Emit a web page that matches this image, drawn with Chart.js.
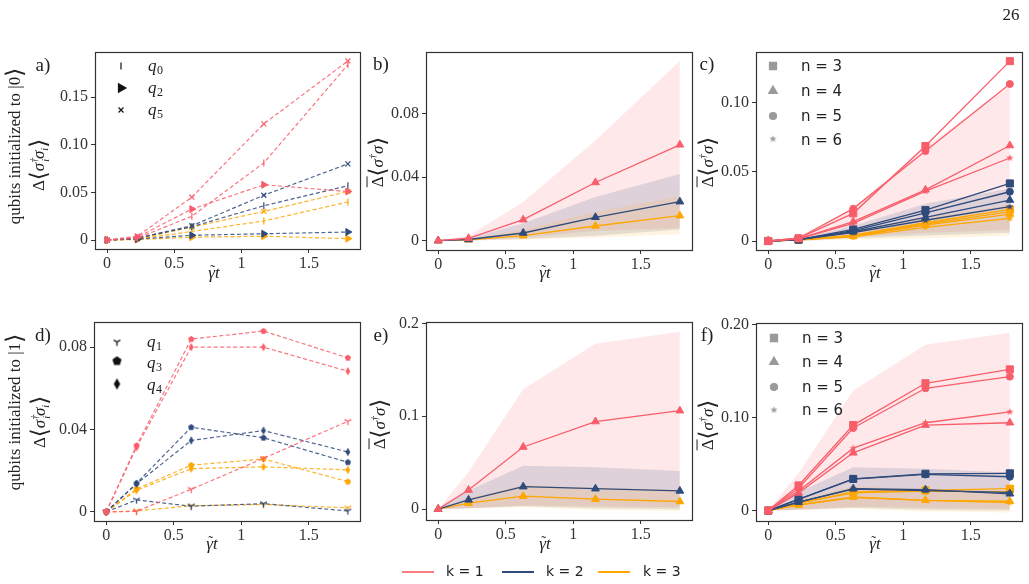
<!DOCTYPE html>
<html>
<head>
<meta charset="utf-8">
<script src="https://cdn.jsdelivr.net/npm/chart.js@4.4.0/dist/chart.umd.min.js"></script>
<style>
  body { margin: 0; background: #fff; }
  #fig { position: relative; width: 1029px; height: 584px; overflow: hidden; font-family: "Liberation Serif", "DejaVu Serif", serif; color: #222; }
  #fig canvas { position: absolute; left: 0; top: 0; pointer-events: none; }
  .lbl { position: absolute; white-space: nowrap; line-height: 1; transform: translate(-50%, -50%); z-index: 5; }
  .rot { transform: translate(-50%, -50%) rotate(-90deg); }
  .m { font-style: italic; }
  .br { font-size: 1.35em; font-style: normal; vertical-align: -0.08em; }
  .bar { text-decoration: overline; }
  .gt { position: relative; display: inline-block; }
  .tl { position: absolute; left: 2px; top: -1px; font-style: normal; font-size: 15px; }
  .key { position: absolute; top: 571px; height: 2px; width: 32px; }
  .keyt { position: absolute; top: 563px; font-family: "DejaVu Sans", sans-serif; font-size: 14px; }
</style>
</head>
<body>
<div id="fig">
  <canvas id="ca" width="1029" height="584"></canvas>
  <canvas id="cb" width="1029" height="584"></canvas>
  <canvas id="cc" width="1029" height="584"></canvas>
  <canvas id="cd" width="1029" height="584"></canvas>
  <canvas id="ce" width="1029" height="584"></canvas>
  <canvas id="cf" width="1029" height="584"></canvas>

  <div class="lbl" style="left:1011px;top:14px;font-size:17px">26</div>

  <div class="lbl" style="left:43px;top:64px;font-size:19px">a)</div>
  <div class="lbl" style="left:381px;top:63px;font-size:19px">b)</div>
  <div class="lbl" style="left:707px;top:63px;font-size:19px">c)</div>
  <div class="lbl" style="left:43px;top:334px;font-size:19px">d)</div>
  <div class="lbl" style="left:381px;top:334px;font-size:19px">e)</div>
  <div class="lbl" style="left:707px;top:334px;font-size:19px">f)</div>

  <div class="lbl rot" style="left:15px;top:146px;font-size:17px">qubits initialized to |0<span class="br">⟩</span></div>
  <div class="lbl rot" style="left:39px;top:165px;font-size:17px">Δ<span class="br">⟨</span><span class="m">σ<sup style="font-size:10px">†</sup><sub style="font-size:10px;margin-left:-4px">i</sub>σ<sub style="font-size:10px">i</sub></span><span class="br">⟩</span></div>
  <div class="lbl rot" style="left:15px;top:412px;font-size:17px">qubits initialized to |1<span class="br">⟩</span></div>
  <div class="lbl rot" style="left:40px;top:422px;font-size:17px">Δ<span class="br">⟨</span><span class="m">σ<sup style="font-size:10px">†</sup><sub style="font-size:10px;margin-left:-4px">i</sub>σ<sub style="font-size:10px">i</sub></span><span class="br">⟩</span></div>

  <div class="lbl rot" style="left:378px;top:162px;font-size:17px"><span class="bar">Δ</span><span class="br">⟨</span><span class="m">σ<sup style="font-size:10px">†</sup>σ</span><span class="br">⟩</span></div>
  <div class="lbl rot" style="left:708px;top:162px;font-size:17px"><span class="bar">Δ</span><span class="br">⟨</span><span class="m">σ<sup style="font-size:10px">†</sup>σ</span><span class="br">⟩</span></div>
  <div class="lbl rot" style="left:380px;top:424px;font-size:17px"><span class="bar">Δ</span><span class="br">⟨</span><span class="m">σ<sup style="font-size:10px">†</sup>σ</span><span class="br">⟩</span></div>
  <div class="lbl rot" style="left:708px;top:425px;font-size:17px"><span class="bar">Δ</span><span class="br">⟨</span><span class="m">σ<sup style="font-size:10px">†</sup>σ</span><span class="br">⟩</span></div>

  <div class="lbl m" style="left:214px;top:272px;font-size:17px"><span class="gt">γ<span class="tl">˜</span></span>t</div>
  <div class="lbl m" style="left:545px;top:272px;font-size:17px"><span class="gt">γ<span class="tl">˜</span></span>t</div>
  <div class="lbl m" style="left:875px;top:272px;font-size:17px"><span class="gt">γ<span class="tl">˜</span></span>t</div>
  <div class="lbl m" style="left:212px;top:543px;font-size:17px"><span class="gt">γ<span class="tl">˜</span></span>t</div>
  <div class="lbl m" style="left:545px;top:543px;font-size:17px"><span class="gt">γ<span class="tl">˜</span></span>t</div>
  <div class="lbl m" style="left:875px;top:543px;font-size:17px"><span class="gt">γ<span class="tl">˜</span></span>t</div>

  <div class="key" style="left:402px;background:#f87c82"></div>
  <div class="keyt" style="left:446px">k = 1</div>
  <div class="key" style="left:502px;background:#2f4b7c"></div>
  <div class="keyt" style="left:546px">k = 2</div>
  <div class="key" style="left:598px;background:#ffa600"></div>
  <div class="keyt" style="left:643px">k = 3</div>
</div>

<script>
// ================== data ==================
const gammaT = [0, 0.225, 0.63, 1.165, 1.79];
const xTicks = [0, 0.5, 1, 1.5];
const xTickLabels = ['0', '0.5', '1', '1.5'];

// a) qubits initialized to |0>
const a_q0_k1 = [0, 0.002, 0.025, 0.081, 0.184];
const a_q2_k1 = [0, 0.003, 0.0325, 0.058, 0.051];
const a_q5_k1 = [0, 0.004, 0.045, 0.122, 0.188];
const a_q0_k2 = [0, 0.002, 0.014, 0.036, 0.057];
const a_q2_k2 = [0, 0.001, 0.005, 0.0066, 0.0084];
const a_q5_k2 = [0, 0.002, 0.015, 0.047, 0.080];
const a_q0_k3 = [0, 0.001, 0.009, 0.020, 0.040];
const a_q2_k3 = [0, 0.0005, 0.003, 0.004, 0.0015];
const a_q5_k3 = [0, 0.001, 0.0136, 0.030, 0.051];
const aTicks = [0, 0.05, 0.10, 0.15];
const aTickLabels = ['0', '0.05', '0.10', '0.15'];

// b) mean over qubits initialized to |0>
const b_mean_k1 = [0, 0.0015, 0.0132, 0.0366, 0.0603];
const b_mean_k2 = [0, 0.0007, 0.0048, 0.0147, 0.0245];
const b_mean_k3 = [0, 0.0005, 0.0031, 0.0092, 0.0157];
const b_hi_k1 = [0, 0.003, 0.0243, 0.063, 0.113];
const b_lo_k1 = [0, 0, 0.002, 0.006, 0.008];
const b_hi_k2 = [0, 0.0015, 0.011, 0.0275, 0.042];
const b_lo_k2 = [0, 0, 0.001, 0.003, 0.007];
const b_hi_k3 = [0, 0.001, 0.007, 0.018, 0.028];
const b_lo_k3 = [0, 0, 0.0005, 0.002, 0.004];
const bTicks = [0, 0.04, 0.08];
const bTickLabels = ['0', '0.04', '0.08'];

// c) per system size n
const c_n3_k1 = [0, 0.002, 0.020, 0.0687, 0.130];
const c_n4_k1 = [0, 0.0015, 0.014, 0.037, 0.069];
const c_n5_k1 = [0, 0.002, 0.0234, 0.065, 0.1135];
const c_n6_k1 = [0, 0.0015, 0.0127, 0.036, 0.060];
const c_n3_k2 = [0, 0.001, 0.0084, 0.0224, 0.0416];
const c_n4_k2 = [0, 0.001, 0.0067, 0.017, 0.0296];
const c_n5_k2 = [0, 0.001, 0.0075, 0.0204, 0.0356];
const c_n6_k2 = [0, 0.001, 0.006, 0.015, 0.0248];
const c_n3_k3 = [0, 0.0008, 0.0043, 0.0132, 0.0228];
const c_n4_k3 = [0, 0.0008, 0.0036, 0.0115, 0.0195];
const c_n5_k3 = [0, 0.0008, 0.0038, 0.0122, 0.0212];
const c_n6_k3 = [0, 0.0008, 0.003, 0.0099, 0.0163];
const c_hi_k1 = [0, 0.003, 0.024, 0.068, 0.112];
const c_lo_k1 = [0, 0, 0.003, 0.006, 0.008];
const c_hi_k2 = [0, 0.0015, 0.011, 0.027, 0.038];
const c_lo_k2 = [0, 0, 0.002, 0.004, 0.006];
const c_hi_k3 = [0, 0.001, 0.007, 0.017, 0.026];
const c_lo_k3 = [0, 0, 0.001, 0.002, 0.004];
const cTicks = [0, 0.05, 0.10];
const cTickLabels = ['0', '0.05', '0.10'];

// d) qubits initialized to |1>
const d_q1_k1 = [0, 0.0003, 0.011, 0.026, 0.044];
const d_q3_k1 = [0, 0.0322, 0.0839, 0.0878, 0.0748];
const d_q4_k1 = [0, 0.0314, 0.080, 0.080, 0.0683];
const d_q1_k2 = [0, 0.0058, 0.0028, 0.004, 0.0005];
const d_q3_k2 = [0, 0.0139, 0.0411, 0.036, 0.0241];
const d_q4_k2 = [0, 0.0136, 0.0347, 0.0395, 0.0291];
const d_q1_k3 = [0, 0.0005, 0.003, 0.0036, 0.002];
const d_q3_k3 = [0, 0.0112, 0.0227, 0.0257, 0.0147];
const d_q4_k3 = [0, 0.0105, 0.021, 0.0219, 0.0204];
const dTicks = [0, 0.04, 0.08];
const dTickLabels = ['0', '0.04', '0.08'];

// e) mean over qubits initialized to |1>
const e_mean_k1 = [0, 0.0206, 0.0669, 0.0943, 0.106];
const e_mean_k2 = [0, 0.010, 0.0242, 0.022, 0.0196];
const e_mean_k3 = [0, 0.0064, 0.0139, 0.0107, 0.0082];
const e_hi_k1 = [0, 0.040, 0.129, 0.178, 0.191];
const e_lo_k1 = [0, 0.001, 0.004, 0.003, 0.002];
const e_hi_k2 = [0, 0.020, 0.0466, 0.045, 0.041];
const e_lo_k2 = [0, 0.001, 0.003, 0.001, 0];
const e_hi_k3 = [0, 0.012, 0.026, 0.023, 0.021];
const e_lo_k3 = [0, 0.001, 0.002, -0.001, -0.002];
const eTicks = [0, 0.1, 0.2];
const eTickLabels = ['0', '0.1', '0.2'];

// f) per system size n
const f_n3_k1 = [0, 0.027, 0.0918, 0.1367, 0.1516];
const f_n4_k1 = [0, 0.019, 0.062, 0.0918, 0.0943];
const f_n5_k1 = [0, 0.024, 0.0886, 0.1313, 0.1438];
const f_n6_k1 = [0, 0.021, 0.067, 0.0943, 0.106];
const f_n3_k2 = [0, 0.012, 0.034, 0.0395, 0.040];
const f_n4_k2 = [0, 0.009, 0.0235, 0.0224, 0.018];
const f_n5_k2 = [0, 0.012, 0.0338, 0.0388, 0.0363];
const f_n6_k2 = [0, 0.009, 0.023, 0.0215, 0.0195];
const f_n3_k3 = [0, 0.008, 0.020, 0.0217, 0.0235];
const f_n4_k3 = [0, 0.006, 0.0146, 0.011, 0.010];
const f_n5_k3 = [0, 0.008, 0.019, 0.021, 0.020];
const f_n6_k3 = [0, 0.006, 0.014, 0.011, 0.0085];
const fTicks = [0, 0.10, 0.20];
const fTickLabels = ['0', '0.10', '0.20'];

// ================== styling ==================
const RED = '#f95d6a', BLUE = '#2f4b7c', ORANGE = '#ffa600';
const RED_A = 'rgba(249,93,106,0.85)', BLUE_A = 'rgba(47,75,124,0.85)', ORANGE_A = 'rgba(255,166,0,0.85)';
const BAND = { red: 'rgba(249,93,106,0.14)', blue: 'rgba(47,75,124,0.15)', orange: 'rgba(255,166,0,0.12)' };
const W = 1029, H = 584, YW = 50, XH = 22;
const X_RANGE = [-0.09, 1.88];

// small canvases for the markers Chart.js does not have
function marker(shape, color, size) {
  const c = document.createElement('canvas');
  c.width = c.height = size;
  const g = c.getContext('2d');
  const m = size / 2, r = size / 2 - 0.7;
  g.fillStyle = color; g.strokeStyle = color; g.lineWidth = 1.3;
  g.beginPath();
  if (shape === 'tri') {
    g.moveTo(m, m); g.lineTo(m, m + r);
    g.moveTo(m, m); g.lineTo(m - 0.87 * r, m - 0.5 * r);
    g.moveTo(m, m); g.lineTo(m + 0.87 * r, m - 0.5 * r);
    g.stroke();
    return c;
  }
  if (shape === 'pent') {
    for (let k = 0; k < 5; k++) {
      const a = (-90 + k * 72) * Math.PI / 180;
      g.lineTo(m + r * Math.cos(a), m + r * Math.sin(a));
    }
  } else if (shape === 'thind') {
    g.moveTo(m, m - r); g.lineTo(m + 0.55 * r, m); g.lineTo(m, m + r); g.lineTo(m - 0.55 * r, m);
  } else if (shape === 'star') {
    for (let k = 0; k < 10; k++) {
      const a = (-90 + k * 36) * Math.PI / 180, rr = k % 2 ? r * 0.42 : r;
      g.lineTo(m + rr * Math.cos(a), m + rr * Math.sin(a));
    }
  }
  g.closePath(); g.fill();
  return c;
}

function series(ys, color, lineColor, style, extra) {
  return Object.assign({
    data: gammaT.map((x, i) => ({ x, y: ys[i] })),
    borderColor: lineColor, backgroundColor: color,
    pointBackgroundColor: color, pointBorderColor: color,
    borderWidth: 1.3, pointStyle: style, pointRadius: 4, pointBorderWidth: 1,
    tension: 0, fill: false
  }, extra || {});
}
function dashed(ys, color, lineColor, style, extra) {
  return series(ys, color, lineColor, style, Object.assign({ borderDash: [4, 2.5], borderWidth: 1.2 }, extra || {}));
}
function band(hi, lo, fillColor) {
  return [
    { data: gammaT.map((x, i) => ({ x, y: hi[i] })), borderWidth: 0, pointRadius: 0, fill: '+1', backgroundColor: fillColor, borderColor: 'rgba(0,0,0,0)' },
    { data: gammaT.map((x, i) => ({ x, y: lo[i] })), borderWidth: 0, pointRadius: 0, fill: false, borderColor: 'rgba(0,0,0,0)' }
  ];
}

function axis(range, ticks, labels, isX) {
  return {
    type: 'linear', min: range[0], max: range[1],
    afterBuildTicks: ax => { ax.ticks = ticks.map(v => ({ value: v })); },
    afterFit: ax => { if (isX) ax.height = XH; else ax.width = YW; },
    ticks: {
      callback: (v, i) => labels[i],
      font: { family: 'Liberation Serif', size: 16 }, color: '#333',
      padding: isX ? 1 : 3, maxRotation: 0, autoSkip: false
    },
    grid: { drawOnChartArea: false, drawTicks: true, tickLength: 4, color: '#333', tickWidth: 1 },
    border: { display: false }
  };
}

const framePlugin = {
  id: 'frame',
  afterDraw(chart) {
    const { ctx, chartArea: a } = chart;
    ctx.save();
    ctx.strokeStyle = '#333'; ctx.lineWidth = 1.2;
    ctx.strokeRect(Math.round(a.left) + 0.5, Math.round(a.top) + 0.5, Math.round(a.right - a.left), Math.round(a.bottom - a.top));
    ctx.restore();
  }
};

// legend inside the plot, in page coordinates
function insetLegend(items) {
  return {
    id: 'inset',
    afterDraw(chart) {
      const ctx = chart.ctx;
      items.forEach(it => {
        ctx.save();
        ctx.fillStyle = it.color; ctx.strokeStyle = it.color; ctx.lineWidth = it.bw || 1.2;
        Chart.helpers.drawPoint(ctx, { pointStyle: it.style, rotation: it.rot || 0, radius: it.r, borderWidth: it.bw || 1.2 }, it.mx, it.my);
        ctx.fillStyle = '#222';
        ctx.textBaseline = 'middle';
        if (it.sub !== undefined) {
          ctx.font = 'italic 17px "Liberation Serif"';
          ctx.fillText(it.text, it.tx, it.ty);
          const w = ctx.measureText(it.text).width;
          ctx.font = '12px "Liberation Serif"';
          ctx.fillText(it.sub, it.tx + w + 0.5, it.ty + 4);
        } else {
          ctx.font = '15px "DejaVu Sans"';
          ctx.fillText(it.text, it.tx, it.ty);
        }
        ctx.restore();
      });
    }
  };
}

function makeChart(id, box, yRange, yTicks, yLabels, datasets, legendItems) {
  new Chart(document.getElementById(id), {
    type: 'line',
    data: { datasets },
    options: {
      responsive: false, animation: false, devicePixelRatio: 1,
      layout: { padding: { left: box.l - YW, top: box.t, right: W - box.r, bottom: H - box.b - XH } },
      plugins: { legend: { display: false }, tooltip: { enabled: false } },
      scales: {
        x: axis(X_RANGE, xTicks, xTickLabels, true),
        y: axis(yRange, yTicks, yLabels, false)
      }
    },
    plugins: [framePlugin, insetLegend(legendItems || [])]
  });
}

// ================== panels ==================
const GREY = '#9a9a9a';

// a)
makeChart('ca', { l: 95, t: 52, r: 360, b: 249 }, [-0.0094, 0.1974], aTicks, aTickLabels, [
  dashed(a_q5_k1, RED, RED_A, 'crossRot', { pointRadius: 3.5, pointBorderWidth: 1.2 }),
  dashed(a_q0_k1, RED, RED_A, 'line', { pointRotation: 90, pointRadius: 3.5, pointBorderWidth: 1.2 }),
  dashed(a_q2_k1, RED, RED_A, 'triangle', { pointRotation: 90, pointRadius: 4 }),
  dashed(a_q5_k2, BLUE, BLUE_A, 'crossRot', { pointRadius: 3.5, pointBorderWidth: 1.2 }),
  dashed(a_q0_k2, BLUE, BLUE_A, 'line', { pointRotation: 90, pointRadius: 3.5, pointBorderWidth: 1.2 }),
  dashed(a_q2_k2, BLUE, BLUE_A, 'triangle', { pointRotation: 90, pointRadius: 4 }),
  dashed(a_q5_k3, ORANGE, ORANGE_A, 'crossRot', { pointRadius: 3.5, pointBorderWidth: 1.2 }),
  dashed(a_q0_k3, ORANGE, ORANGE_A, 'line', { pointRotation: 90, pointRadius: 3.5, pointBorderWidth: 1.2 }),
  dashed(a_q2_k3, ORANGE, ORANGE_A, 'triangle', { pointRotation: 90, pointRadius: 4 })
], [
  { style: 'line', rot: 90, r: 3.5, color: '#111', mx: 121, my: 66, text: 'q', sub: '0', tx: 148, ty: 67 },
  { style: 'triangle', rot: 90, r: 5, color: '#111', mx: 121, my: 88, text: 'q', sub: '2', tx: 148, ty: 89 },
  { style: 'crossRot', r: 3.5, color: '#111', mx: 121, my: 110, text: 'q', sub: '5', tx: 148, ty: 111 }
]);

// b)
makeChart('cb', { l: 426, t: 52, r: 692, b: 250 }, [-0.0059, 0.1187], bTicks, bTickLabels, [
  series(b_mean_k1, RED, RED, 'triangle', { pointRadius: 4.5 }),
  series(b_mean_k2, BLUE, BLUE, 'triangle', { pointRadius: 4.5 }),
  series(b_mean_k3, ORANGE, ORANGE, 'triangle', { pointRadius: 4.5 }),
  ...band(b_hi_k3, b_lo_k3, BAND.orange),
  ...band(b_hi_k2, b_lo_k2, BAND.blue),
  ...band(b_hi_k1, b_lo_k1, BAND.red)
]);

// c)
const starR = marker('star', RED, 9), starB = marker('star', BLUE, 9), starO = marker('star', ORANGE, 9);
makeChart('cc', { l: 756, t: 52, r: 1022, b: 250 }, [-0.0065, 0.1366], cTicks, cTickLabels, [
  series(c_n3_k1, RED, RED, 'rect', { pointRadius: 5 }),
  series(c_n5_k1, RED, RED, 'circle', { pointRadius: 3.5 }),
  series(c_n4_k1, RED, RED, 'triangle', { pointRadius: 4.5 }),
  series(c_n6_k1, RED, RED, starR),
  series(c_n3_k2, BLUE, BLUE, 'rect', { pointRadius: 5 }),
  series(c_n5_k2, BLUE, BLUE, 'circle', { pointRadius: 3.5 }),
  series(c_n4_k2, BLUE, BLUE, 'triangle', { pointRadius: 4.5 }),
  series(c_n6_k2, BLUE, BLUE, starB),
  series(c_n3_k3, ORANGE, ORANGE, 'rect', { pointRadius: 5 }),
  series(c_n5_k3, ORANGE, ORANGE, 'circle', { pointRadius: 3.5 }),
  series(c_n4_k3, ORANGE, ORANGE, 'triangle', { pointRadius: 4.5 }),
  series(c_n6_k3, ORANGE, ORANGE, starO),
  ...band(c_hi_k3, c_lo_k3, BAND.orange),
  ...band(c_hi_k2, c_lo_k2, BAND.blue),
  ...band(c_hi_k1, c_lo_k1, BAND.red)
], [
  { style: 'rect', r: 5, color: GREY, mx: 773, my: 66, text: 'n = 3', tx: 801, ty: 67 },
  { style: 'triangle', r: 5, color: GREY, mx: 773, my: 91, text: 'n = 4', tx: 801, ty: 92 },
  { style: 'circle', r: 3.5, color: GREY, mx: 773, my: 116, text: 'n = 5', tx: 801, ty: 117 },
  { style: marker('star', GREY, 9), r: 4, color: GREY, mx: 773, my: 139, text: 'n = 6', tx: 801, ty: 141 }
]);

// d)
const triR = marker('tri', RED, 9), triB = marker('tri', BLUE, 9), triO = marker('tri', ORANGE, 9);
const penR = marker('pent', RED, 8), penB = marker('pent', BLUE, 8), penO = marker('pent', ORANGE, 8);
const diaR = marker('thind', RED, 10), diaB = marker('thind', BLUE, 10), diaO = marker('thind', ORANGE, 10);
makeChart('cd', { l: 94, t: 322, r: 360, b: 521 }, [-0.0044, 0.0922], dTicks, dTickLabels, [
  dashed(d_q3_k1, RED, RED_A, penR),
  dashed(d_q4_k1, RED, RED_A, diaR),
  dashed(d_q1_k1, RED, RED_A, triR),
  dashed(d_q3_k2, BLUE, BLUE_A, penB),
  dashed(d_q4_k2, BLUE, BLUE_A, diaB),
  dashed(d_q1_k2, BLUE, BLUE_A, triB),
  dashed(d_q3_k3, ORANGE, ORANGE_A, penO),
  dashed(d_q4_k3, ORANGE, ORANGE_A, diaO),
  dashed(d_q1_k3, ORANGE, ORANGE_A, triO)
], [
  { style: marker('tri', '#111', 9), r: 4, color: '#111', mx: 117, my: 342, text: 'q', sub: '1', tx: 147, ty: 343 },
  { style: marker('pent', '#111', 11), r: 5, color: '#111', mx: 117, my: 361, text: 'q', sub: '3', tx: 147, ty: 364 },
  { style: marker('thind', '#111', 13), r: 6, color: '#111', mx: 117, my: 384, text: 'q', sub: '4', tx: 147, ty: 386 }
]);

// e)
makeChart('ce', { l: 426, t: 322, r: 692, b: 520 }, [-0.0117, 0.2015], eTicks, eTickLabels, [
  series(e_mean_k1, RED, RED, 'triangle', { pointRadius: 4.5 }),
  series(e_mean_k2, BLUE, BLUE, 'triangle', { pointRadius: 4.5 }),
  series(e_mean_k3, ORANGE, ORANGE, 'triangle', { pointRadius: 4.5 }),
  ...band(e_hi_k3, e_lo_k3, BAND.orange),
  ...band(e_hi_k2, e_lo_k2, BAND.blue),
  ...band(e_hi_k1, e_lo_k1, BAND.red)
]);

// f) same spread bands as e)
makeChart('cf', { l: 756, t: 323, r: 1022, b: 521 }, [-0.0112, 0.2014], fTicks, fTickLabels, [
  series(f_n3_k1, RED, RED, 'rect', { pointRadius: 5 }),
  series(f_n5_k1, RED, RED, 'circle', { pointRadius: 3.5 }),
  series(f_n6_k1, RED, RED, starR),
  series(f_n4_k1, RED, RED, 'triangle', { pointRadius: 4.5 }),
  series(f_n3_k2, BLUE, BLUE, 'rect', { pointRadius: 5 }),
  series(f_n5_k2, BLUE, BLUE, 'circle', { pointRadius: 3.5 }),
  series(f_n4_k2, BLUE, BLUE, 'triangle', { pointRadius: 4.5 }),
  series(f_n6_k2, BLUE, BLUE, starB),
  series(f_n3_k3, ORANGE, ORANGE, 'rect', { pointRadius: 5 }),
  series(f_n5_k3, ORANGE, ORANGE, 'circle', { pointRadius: 3.5 }),
  series(f_n4_k3, ORANGE, ORANGE, 'triangle', { pointRadius: 4.5 }),
  series(f_n6_k3, ORANGE, ORANGE, starO),
  ...band(e_hi_k3, e_lo_k3, BAND.orange),
  ...band(e_hi_k2, e_lo_k2, BAND.blue),
  ...band(e_hi_k1, e_lo_k1, BAND.red)
], [
  { style: 'rect', r: 5, color: GREY, mx: 774, my: 338, text: 'n = 3', tx: 802, ty: 339 },
  { style: 'triangle', r: 5, color: GREY, mx: 774, my: 362, text: 'n = 4', tx: 802, ty: 363 },
  { style: 'circle', r: 3.5, color: GREY, mx: 774, my: 387, text: 'n = 5', tx: 802, ty: 388 },
  { style: marker('star', GREY, 9), r: 4, color: GREY, mx: 774, my: 410, text: 'n = 6', tx: 802, ty: 411 }
]);
</script>
</body>
</html>
